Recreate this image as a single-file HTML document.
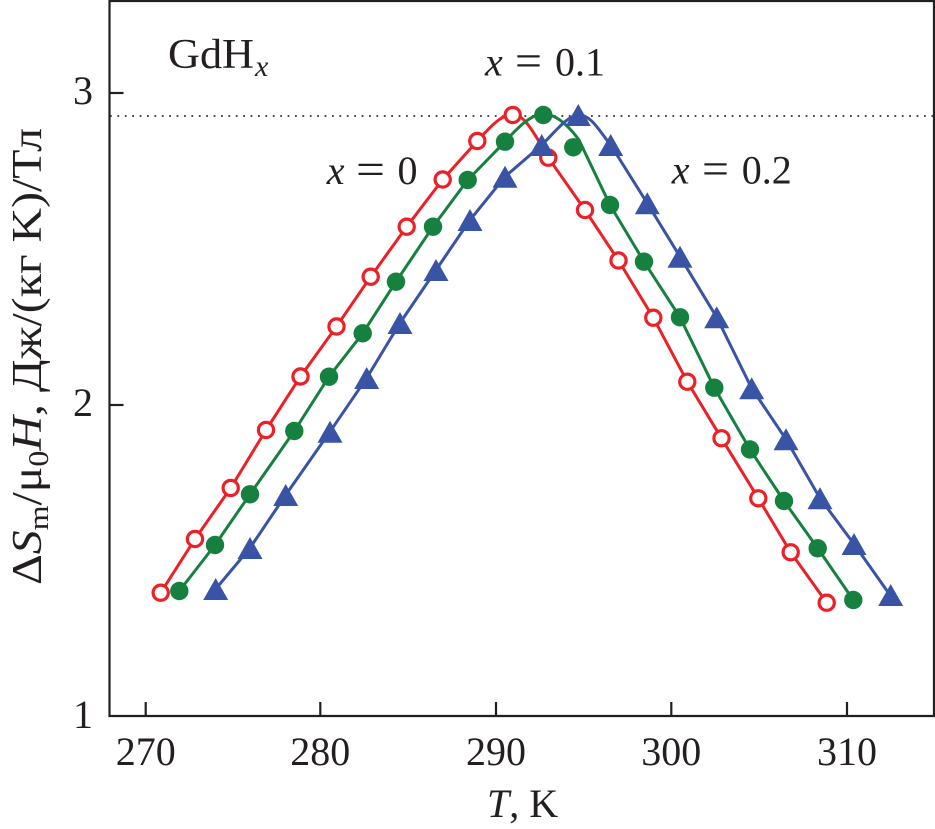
<!DOCTYPE html>
<html><head><meta charset="utf-8"><style>
html,body{margin:0;padding:0;background:#fff;}
svg{display:block;}
text{font-family:"Liberation Serif","Times New Roman",serif;fill:#231f20;}
</style></head><body>
<svg width="935" height="829" viewBox="0 0 935 829" xmlns="http://www.w3.org/2000/svg" font-family="Liberation Serif, serif">
<rect width="935" height="829" fill="#fff"/>
<line x1="110" y1="116" x2="933" y2="116" stroke="#333" stroke-width="1.8" stroke-dasharray="1.8 5.6"/>
<path d="M109.5,716 L109.5,1 L934,1 L934,716 Z" fill="none" stroke="#231f20" stroke-width="2.2"/>
<g stroke="#231f20" stroke-width="2.2">
<line x1="145.7" y1="716" x2="145.7" y2="702"/>
<line x1="320.3" y1="716" x2="320.3" y2="702"/>
<line x1="496" y1="716" x2="496" y2="702"/>
<line x1="671.3" y1="716" x2="671.3" y2="702"/>
<line x1="847" y1="716" x2="847" y2="702"/>
<line x1="109.5" y1="93" x2="123.5" y2="93"/>
<line x1="109.5" y1="405" x2="123.5" y2="405"/>
</g>
<g font-size="40">
<text x="145.7" y="765" text-anchor="middle">270</text>
<text x="320.3" y="765" text-anchor="middle">280</text>
<text x="496" y="765" text-anchor="middle">290</text>
<text x="671.3" y="765" text-anchor="middle">300</text>
<text x="847" y="765" text-anchor="middle">310</text>
<text x="93" y="104" text-anchor="end">3</text>
<text x="93" y="416" text-anchor="end">2</text>
<text x="93" y="728" text-anchor="end">1</text>
</g>
<text x="487" y="817" font-size="40"><tspan font-style="italic">T</tspan>, K</text>
<text transform="translate(41,356.5) rotate(-90)" text-anchor="middle" font-size="42" textLength="457" lengthAdjust="spacingAndGlyphs">Δ<tspan font-style="italic">S</tspan><tspan font-size="28" dy="7">m</tspan><tspan dy="-7">/μ</tspan><tspan font-size="28" dy="7">0</tspan><tspan font-style="italic" dy="-7">H</tspan>, Дж/(кг K)/Тл</text>
<text x="168" y="68" font-size="42" textLength="86" lengthAdjust="spacingAndGlyphs">GdH</text>
<text x="255" y="76" font-size="30" font-style="italic">x</text>
<g font-size="40">
<text x="326.7" y="184" font-style="italic">x</text><text x="356" y="184" font-size="44" textLength="29" lengthAdjust="spacingAndGlyphs">=</text><text x="397.5" y="184">0</text>
<text x="485" y="75.7" font-style="italic">x</text><text x="515" y="75.7" font-size="44" textLength="27" lengthAdjust="spacingAndGlyphs">=</text><text x="555" y="75.7">0.1</text>
<text x="671.7" y="183.3" font-style="italic">x</text><text x="702" y="183.3" font-size="44" textLength="27" lengthAdjust="spacingAndGlyphs">=</text><text x="741.7" y="183.3">0.2</text>
</g>
<g fill="none" stroke-width="3" stroke-linejoin="round" stroke-linecap="round">
<path stroke="#ec2027" d="M160.7,592.7 L195,539 L230.7,488 L266,430 L300.5,376.5 L336.5,326.5 L370.7,276.7 L406.7,226.7 L442.7,179.5 L477.3,141 C490,127 502,114 513,114 C525,114 538,140 548.3,157.7 L585,210 L618.5,260.5 L653.3,317.7 L687.3,381.7 L721.5,438.3 L758.3,498.3 L790.7,552.3 L826.7,602.7"/>
<path stroke="#16803f" d="M179.3,591 L215,545 L250,494.3 L294.3,431 L329,376.7 L362.7,333.3 L396,281.7 L433,226.7 L467.7,180 L505,141.7 C519,126 532,114 543.3,114 C556,114 568,125 579,140 L610,205 L644,261.7 L680,317.3 L714.3,387.7 L750,449.5 L784,501 L817.7,548.3 L853.3,600"/>
<path stroke="#3a54a5" d="M215.7,589 L250,548 L285.7,495 L330,431.7 L366.7,378 L400,323 L436,270 L470,220 L505,176.7 L541.7,145 C555,132 567,116 578,115 C591,114 600,132 610.7,145 L647.3,203.3 L680,256.7 L716.7,317.3 L751.7,388.3 L786,439.3 L820,498.3 L854,544 L890.7,596"/>
</g>
<g fill="#fff" stroke="#ec2027" stroke-width="3.2">
<circle cx="160.7" cy="592.7" r="7.6"/><circle cx="195" cy="539" r="7.6"/><circle cx="230.7" cy="488" r="7.6"/><circle cx="266" cy="430" r="7.6"/><circle cx="300.5" cy="376.5" r="7.6"/><circle cx="336.5" cy="326.5" r="7.6"/><circle cx="370.7" cy="276.7" r="7.6"/><circle cx="406.7" cy="226.7" r="7.6"/><circle cx="442.7" cy="179.5" r="7.6"/><circle cx="477.3" cy="141" r="7.6"/><circle cx="512.7" cy="115" r="7.6"/><circle cx="548.3" cy="157.7" r="7.6"/><circle cx="585" cy="210" r="7.6"/><circle cx="618.5" cy="260.5" r="7.6"/><circle cx="653.3" cy="317.7" r="7.6"/><circle cx="687.3" cy="381.7" r="7.6"/><circle cx="721.5" cy="438.3" r="7.6"/><circle cx="758.3" cy="498.3" r="7.6"/><circle cx="790.7" cy="552.3" r="7.6"/><circle cx="826.7" cy="602.7" r="7.6"/>
</g>
<g fill="#16803f">
<circle cx="179.3" cy="591" r="9.2"/><circle cx="215" cy="545" r="9.2"/><circle cx="250" cy="494.3" r="9.2"/><circle cx="294.3" cy="431" r="9.2"/><circle cx="329" cy="376.7" r="9.2"/><circle cx="362.7" cy="333.3" r="9.2"/><circle cx="396" cy="281.7" r="9.2"/><circle cx="433" cy="226.7" r="9.2"/><circle cx="467.7" cy="180" r="9.2"/><circle cx="505" cy="141.7" r="9.2"/><circle cx="543.3" cy="115" r="9.2"/><circle cx="573.3" cy="147.3" r="9.2"/><circle cx="610" cy="205" r="9.2"/><circle cx="644" cy="261.7" r="9.2"/><circle cx="680" cy="317.3" r="9.2"/><circle cx="714.3" cy="387.7" r="9.2"/><circle cx="750" cy="449.5" r="9.2"/><circle cx="784" cy="501" r="9.2"/><circle cx="817.7" cy="548.3" r="9.2"/><circle cx="853.3" cy="600" r="9.2"/>
</g>
<g fill="#3a54a5">
<path d="M215.7,578 l12.5,22 h-25 z"/>
<path d="M250,537 l12.5,22 h-25 z"/>
<path d="M285.7,484 l12.5,22 h-25 z"/>
<path d="M330,420.7 l12.5,22 h-25 z"/>
<path d="M366.7,367 l12.5,22 h-25 z"/>
<path d="M400,312 l12.5,22 h-25 z"/>
<path d="M436,259 l12.5,22 h-25 z"/>
<path d="M470,209 l12.5,22 h-25 z"/>
<path d="M505,165.7 l12.5,22 h-25 z"/>
<path d="M541.7,134 l12.5,22 h-25 z"/>
<path d="M578.3,104 l12.5,22 h-25 z"/>
<path d="M610.7,134 l12.5,22 h-25 z"/>
<path d="M647.3,192.3 l12.5,22 h-25 z"/>
<path d="M680,245.7 l12.5,22 h-25 z"/>
<path d="M716.7,306.3 l12.5,22 h-25 z"/>
<path d="M751.7,377.3 l12.5,22 h-25 z"/>
<path d="M786,428.3 l12.5,22 h-25 z"/>
<path d="M820,487.3 l12.5,22 h-25 z"/>
<path d="M854,533 l12.5,22 h-25 z"/>
<path d="M890.7,584 l12.5,22 h-25 z"/>
</g>
</svg>
</body></html>
